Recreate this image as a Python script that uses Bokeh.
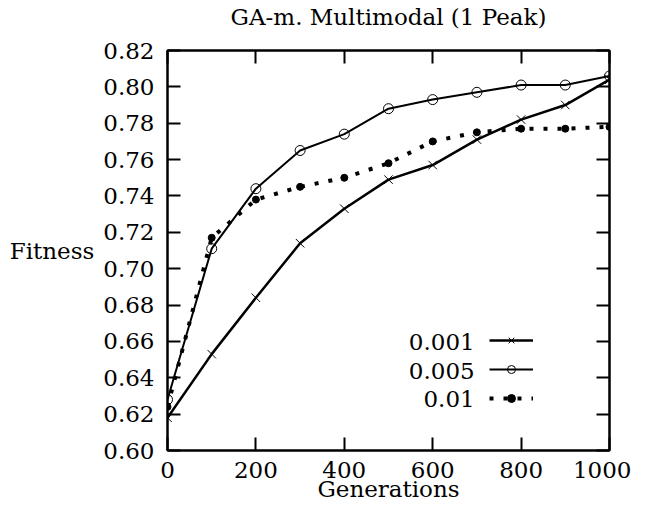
from bokeh.plotting import figure
from bokeh.models import (Range1d, FixedTicker, PrintfTickFormatter, LinearAxis,
                          Label, Legend, LegendItem)
from bokeh.core.properties import value
from bokeh.embed import file_html
from bokeh.resources import INLINE

generations = [0, 100, 200, 300, 400, 500, 600, 700, 800, 900, 1000]
fit_0001 = [0.618, 0.653, 0.684, 0.714, 0.733, 0.749, 0.757, 0.771, 0.782, 0.790, 0.804]
fit_0005 = [0.628, 0.711, 0.744, 0.765, 0.774, 0.788, 0.793, 0.797, 0.801, 0.801, 0.806]
fit_001 = [0.624, 0.717, 0.738, 0.745, 0.750, 0.758, 0.770, 0.775, 0.777, 0.777, 0.778]
series_names = ["0.001", "0.005", "0.01"]
x_ticks = [0, 200, 400, 600, 800, 1000]
y_ticks = [0.60, 0.62, 0.64, 0.66, 0.68, 0.70, 0.72, 0.74, 0.76, 0.78, 0.80, 0.82]
title_text = "GA-m. Multimodal (1 Peak)"

FONT = "DejaVu Serif"
FS = "23px"

p = figure(width=631, height=504, output_backend="svg", toolbar_location=None,
           x_range=Range1d(0, 1000), y_range=Range1d(0.60, 0.82))
p.min_border_left = 167
p.min_border_right = 22
p.min_border_top = 49
p.min_border_bottom = 54
p.grid.visible = False
p.outline_line_color = "black"
p.outline_line_width = 2
p.background_fill_color = "white"
p.border_fill_color = "white"
p.title.visible = False

for ax in p.xaxis:
    ax.ticker = FixedTicker(ticks=x_ticks)
for ax in p.yaxis:
    ax.ticker = FixedTicker(ticks=y_ticks)
    ax.formatter = PrintfTickFormatter(format="%.2f")

for ax in list(p.xaxis) + list(p.yaxis):
    ax.major_tick_in = 13
    ax.major_tick_out = 0
    ax.major_tick_line_width = 2
    ax.minor_tick_line_color = None
    ax.axis_line_width = 2
    ax.major_label_text_font = FONT
    ax.major_label_text_font_size = FS
    ax.major_label_text_color = "black"
    ax.axis_label_text_font = FONT
    ax.axis_label_text_font_size = FS
    ax.axis_label_text_font_style = "normal"
    ax.axis_label_text_color = "black"

p.xaxis.major_label_standoff = 11
p.yaxis.major_label_standoff = 13
p.xaxis.axis_label = "Generations"
p.xaxis.axis_label_standoff = -5
p.yaxis.axis_label = "Fitness"
p.yaxis.axis_label_orientation = "horizontal"
p.yaxis.axis_label_standoff = 6

right_ax = LinearAxis(ticker=FixedTicker(ticks=y_ticks), major_tick_in=13, major_tick_out=0,
                      major_tick_line_width=2, minor_tick_line_color=None,
                      major_label_text_font_size="1px", major_label_text_color=None,
                      major_label_standoff=0, axis_line_width=2)
top_ax = LinearAxis(ticker=FixedTicker(ticks=x_ticks), major_tick_in=13, major_tick_out=0,
                    major_tick_line_width=2, minor_tick_line_color=None,
                    major_label_text_font_size="1px", major_label_text_color=None,
                    major_label_standoff=0, axis_line_width=2,
                    axis_label=title_text, axis_label_standoff=21,
                    axis_label_text_font=FONT, axis_label_text_font_size=FS,
                    axis_label_text_font_style="normal", axis_label_text_color="black")
p.add_layout(right_ax, "right")
p.add_layout(top_ax, "above")

# series
l1 = p.line(generations, fit_0001, line_color="black", line_width=2.5)
m1 = p.scatter(generations, fit_0001, marker="x", size=12, line_color="black", line_width=1)
l2 = p.line(generations, fit_0005, line_color="black", line_width=2)
m2 = p.scatter(generations, fit_0005, marker="circle", size=10, line_color="black",
               fill_color=None, line_width=1)
l3 = p.line(generations, fit_001, line_color="black", line_width=4, line_dash="4 10",
            line_cap="butt")
m3 = p.scatter(generations, fit_001, marker="circle", size=7, line_color="black",
               fill_color="black")

legend = Legend(items=[LegendItem(label=value(" "), renderers=[l1, m1]),
                       LegendItem(label=value(" "), renderers=[l2, m2]),
                       LegendItem(label=value(" "), renderers=[l3, m3])],
                location=(322, 42), glyph_width=44, glyph_height=20, spacing=9,
                padding=0, margin=0, label_text_font_size="1px", label_text_color=None,
                label_standoff=0, border_line_color=None, background_fill_color=None,
                background_fill_alpha=0)
p.add_layout(legend, "center")

legend_y = [0.6598, 0.6438, 0.6283]
for name, ly in zip(series_names, legend_y):
    p.add_layout(Label(x=695, y=ly, text=name, text_align="right", text_baseline="middle",
                       text_font=FONT, text_font_size=FS, text_color="black"))

open("out.html", "w").write(file_html(p, INLINE))
